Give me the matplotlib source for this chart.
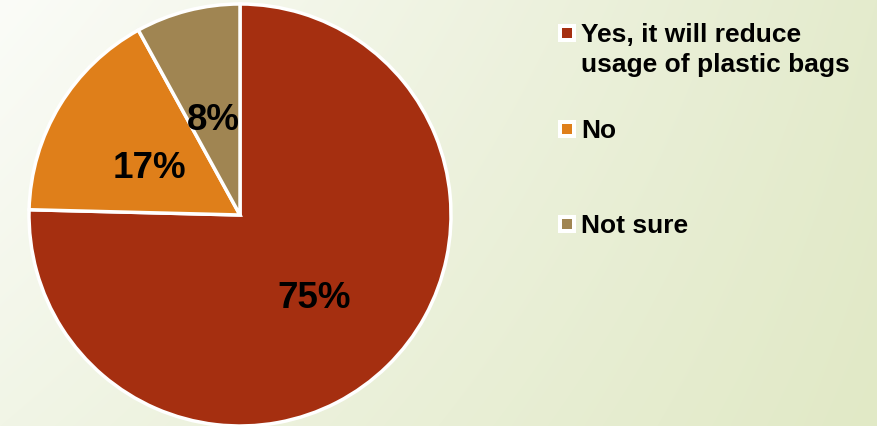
import numpy as np
import matplotlib
matplotlib.use("Agg")
import matplotlib.pyplot as plt
from matplotlib.patches import Rectangle

# ---- data ----
categories = ["Yes, it will reduce\nusage of plastic bags", "No", "Not sure"]
values = [75.4, 16.6, 8.0]
colors = ["#a52f10", "#df7f1a", "#a08552"]

W, H = 877, 427
fig = plt.figure(figsize=(W / 100, H / 100), dpi=100)

# background gradient (bilinear between corner colours)
bg_ax = fig.add_axes([0, 0, 1, 1])
bg_ax.set_axis_off()
def hex2rgb(h):
    h = h.lstrip("#")
    return np.array([int(h[i:i + 2], 16) / 255 for i in (0, 2, 4)])
tl, tr = hex2rgb("#fbfcf8"), hex2rgb("#e4ebcd")
bl, br = hex2rgb("#f1f5e6"), hex2rgb("#e1e9c6")
u = np.linspace(0, 1, W)[None, :, None]
v = np.linspace(0, 1, H)[:, None, None]
img = (1 - v) * ((1 - u) * tl + u * tr) + v * ((1 - u) * bl + u * br)
bg_ax.imshow(img, extent=(0, W, 0, H), aspect="auto", origin="upper")
bg_ax.set_xlim(0, W)
bg_ax.set_ylim(0, H)

ax = fig.add_axes([0, 0, 1, 1])
ax.set_axis_off()
ax.patch.set_alpha(0)

cx, cy, r = 240, H - 216, 211
wedges, texts, autotexts = ax.pie(
    values, colors=colors, startangle=90, counterclock=False,
    center=(cx, cy), radius=r, autopct="%.0f%%", pctdistance=0.5,
    wedgeprops=dict(edgecolor="white", linewidth=2.5),
    textprops=dict(fontsize=26.5, fontweight="bold", color="black",
                   family=["Liberation Sans", "DejaVu Sans"]),
)
for t in autotexts:
    t.set_va("center_baseline")
    x, y = t.get_position()
    t.set_position((x, y - 3))
ax.set_xlim(0, W)
ax.set_ylim(0, H)
ax.set_aspect("auto")

# legend (manual)
marker_y = [34, 130, 225]
baselines = [42, 138, 233]
line_gap = 30
for lab, col, my, by in zip(categories, colors, marker_y, baselines):
    ax.add_patch(Rectangle((567 - 9, H - my - 9), 18, 18, facecolor="white",
                           edgecolor="none", zorder=5))
    ax.add_patch(Rectangle((567 - 5, H - my - 5), 10, 10, facecolor=col,
                           edgecolor="none", zorder=6))
    for i, line in enumerate(lab.split("\n")):
        ax.text(581, H - (by + i * line_gap), line, fontsize=19,
                fontweight="bold", color="black", va="baseline", ha="left",
                family=["Liberation Sans", "DejaVu Sans"], zorder=7)

fig.savefig("out.png", dpi=100)
